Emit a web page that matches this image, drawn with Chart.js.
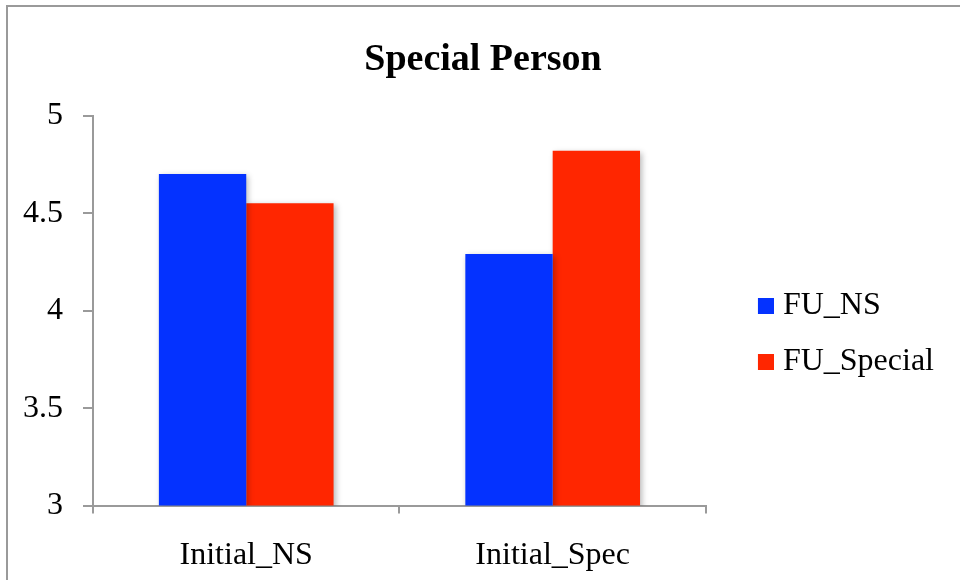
<!DOCTYPE html>
<html>
<head>
<meta charset="utf-8">
<script src="https://cdn.jsdelivr.net/npm/chart.js@4/dist/chart.umd.min.js"></script>
<style>
  html, body { margin: 0; padding: 0; background: #fff; }
  #wrap { width: 960px; height: 580px; position: relative; }
</style>
</head>
<body>
<div id="wrap"><canvas id="c" width="960" height="580"></canvas></div>
<script>
// Chart content
const categories = ['Initial_NS', 'Initial_Spec'];
const fuNS = [4.70, 4.29];
const fuSpecial = [4.55, 4.82];
const seriesNames = ['FU_NS', 'FU_Special'];
const seriesColors = ['#0432FF', '#FF2600'];
const yTicks = [3, 3.5, 4, 4.5, 5];

const SERIF = '"Liberation Serif", "Times New Roman", serif';
const AXIS_GRAY = '#9a9a9a';

// Legend swatch: a 16px square at the right end of a wider transparent strip,
// so the plot keeps its distance from the legend while the square hugs its label.
function legendSwatch(color) {
  const c = document.createElement('canvas');
  c.width = 51;
  c.height = 16;
  const g = c.getContext('2d');
  g.fillStyle = color;
  g.fillRect(35, 0, 16, 16);
  return c;
}

// Outer frame around the chart
const framePlugin = {
  id: 'frame',
  beforeDraw(chart) {
    const ctx = chart.ctx;
    ctx.save();
    ctx.fillStyle = '#fff';
    ctx.fillRect(0, 0, chart.width, chart.height);
    ctx.strokeStyle = '#9a9a9a';
    ctx.lineWidth = 2;
    ctx.strokeRect(7, 6, chart.width + 20, chart.height + 20);
    ctx.restore();
  }
};

// Soft drop shadow under the bars
const shadowPlugin = {
  id: 'barShadow',
  beforeDatasetsDraw(chart) {
    const ctx = chart.ctx;
    ctx.save();
    ctx.shadowColor = 'rgba(0,0,0,0.28)';
    ctx.shadowBlur = 6;
    ctx.shadowOffsetX = 2;
    ctx.shadowOffsetY = 2;
  },
  afterDatasetsDraw(chart) {
    chart.ctx.restore();
  }
};

new Chart(document.getElementById('c'), {
  type: 'bar',
  data: {
    labels: categories,
    datasets: [
      { label: seriesNames[0], data: fuNS, backgroundColor: seriesColors[0], borderWidth: 0 },
      { label: seriesNames[1], data: fuSpecial, backgroundColor: seriesColors[1], borderWidth: 0 }
    ]
  },
  options: {
    responsive: false,
    animation: false,
    layout: { padding: { left: 22, right: 16, top: 20, bottom: 5 } },
    datasets: { bar: { categoryPercentage: 0.57, barPercentage: 1.0 } },
    plugins: {
      title: {
        display: true,
        text: 'Special Person',
        color: '#000',
        font: { family: SERIF, size: 38, weight: 'bold' },
        padding: { top: 17, bottom: 33 }
      },
      legend: {
        display: true,
        position: 'right',
        align: 'center',
        maxWidth: 400,
        // blank legend title only pushes the entries down
        title: { display: true, text: '', font: { size: 10 }, padding: { top: 61, bottom: 0 } },
        labels: {
          color: '#000',
          font: { family: SERIF, size: 32 },
          usePointStyle: true,
          pointStyleWidth: 37,
          boxHeight: 16,
          padding: 24,
          generateLabels(chart) {
            return chart.data.datasets.map((ds, i) => ({
              text: ds.label,
              fillStyle: ds.backgroundColor,
              strokeStyle: ds.backgroundColor,
              fontColor: '#000',
              pointStyle: legendSwatch(ds.backgroundColor),
              lineWidth: 0,
              datasetIndex: i,
              hidden: false
            }));
          }
        }
      },
      tooltip: { enabled: false }
    },
    scales: {
      x: {
        offset: true,
        afterFit(axis) { axis.height -= 23; },
        grid: {
          display: true,
          offset: true,
          drawOnChartArea: false,
          drawTicks: true,
          tickLength: 8,
          color: AXIS_GRAY,
          lineWidth: 2
        },
        border: { display: true, color: AXIS_GRAY, width: 2 },
        ticks: {
          color: '#000',
          font: { family: SERIF, size: 32 },
          padding: 23
        }
      },
      y: {
        min: 3,
        max: 5,
        afterBuildTicks(axis) {
          axis.ticks = yTicks.map(v => ({ value: v }));
        },
        afterFit(axis) { axis.width -= 19; },
        grid: {
          display: true,
          drawOnChartArea: false,
          drawTicks: true,
          tickLength: 10,
          color: AXIS_GRAY,
          lineWidth: 2
        },
        border: { display: true, color: AXIS_GRAY, width: 2 },
        ticks: {
          color: '#000',
          font: { family: SERIF, size: 32 },
          padding: 20,
          callback: v => String(v)
        }
      }
    }
  },
  plugins: [framePlugin, shadowPlugin]
});
</script>
</body>
</html>
